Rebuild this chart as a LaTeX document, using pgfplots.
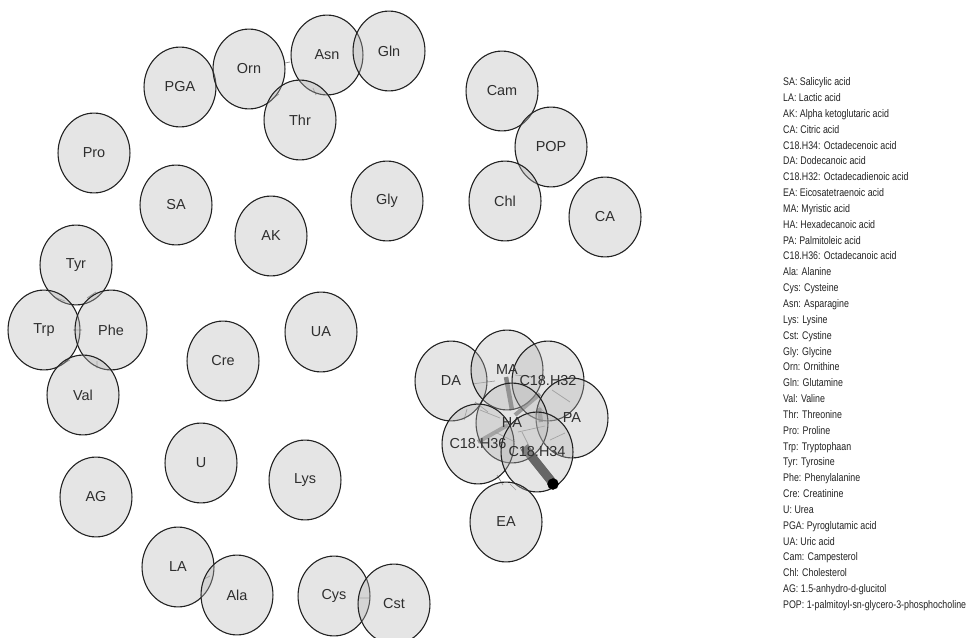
\documentclass[border=0pt]{standalone}
\usepackage{pgfplots}
\pgfplotsset{compat=1.18}
\usepackage{pgfplotstable}
\usepackage{graphicx}
\usepackage{fontspec}
\setmainfont{Liberation Sans}
\definecolor{nodefill}{gray}{0.71}
\definecolor{nodeedge}{HTML}{222222}
\definecolor{thinedge}{HTML}{8C8C8C}
\definecolor{midedge}{HTML}{787878}
\definecolor{darkedge}{HTML}{585858}
\definecolor{heavyedge}{HTML}{3C3C3C}
\definecolor{legtext}{HTML}{222222}
\pgfdeclareplotmark{ell}{%
  \pgfpathellipse{\pgfpointorigin}{\pgfqpoint{\pgfplotmarksize}{0pt}}{\pgfqpoint{0pt}{1.11\pgfplotmarksize}}%
  \pgfusepathqfillstroke}
\pgfplotstableread{
x y label
180 87 PGA
249 69 Orn
327 55 Asn
389 51 Gln
300 120 Thr
502 91 Cam
551 147 POP
94 153 Pro
176 205 SA
271 236 AK
387 201 Gly
505 201 Chl
605 217 CA
76 265 Tyr
44 330 Trp
111 330 Phe
83 395 Val
223 361 Cre
321 332 UA
451 381 DA
507 370 MA
548 381 C18.H32
572 418 PA
512 423 HA
478 444 C18.H36
537 452 C18.H34
506 522 EA
201 463 U
305 480 Lys
96 497 AG
178 567 LA
237 595 Ala
334 596 Cys
394 604 Cst
}\nodetab
\begin{document}
\begin{tikzpicture}
\useasboundingbox (0,0) rectangle (979bp,638bp);
\clip (0,0) rectangle (979bp,638bp);
\begin{axis}[
  at={(0,0)}, anchor=south west,
  scale only axis, width=979bp, height=638bp,
  xmin=0, xmax=979, ymin=0, ymax=638, y dir=reverse,
  hide axis, clip=false, unbounded coords=jump,
]
% nodes
\addplot[only marks, mark=ell, mark size=36.1pt,
  mark options={fill=nodefill, fill opacity=0.35, draw=nodeedge, draw opacity=1, line width=1.1bp}]
  table[x=x,y=y]{\nodetab};
% thin edges
\addplot[thinedge, line width=0.7bp] coordinates {
(285,63) (290,62) (nan,nan)
(272,99) (279,94) (nan,nan)
(313,88) (316,95) (nan,nan)
(54,297) (65,301) (nan,nan)
(87,298) (96,292) (nan,nan)
(73,330) (82,330) (nan,nan)
(62,364) (70,360) (nan,nan)
(97,361) (97,368) (nan,nan)
(204,579) (210,576) (nan,nan)
(358,598) (370,598) (nan,nan)
(472,384) (495,381) (nan,nan)
(515,375) (535,377) (nan,nan)
(475,402) (488,412) (nan,nan)
(464,420) (467,409) (nan,nan)
(480,410) (500,418) (nan,nan)
(552,390) (570,402) (nan,nan)
(518,432) (545,426) (nan,nan)
(550,440) (565,433) (nan,nan)
(497,475) (503,485) (nan,nan)
(510,484) (516,490) (nan,nan)
(522,432) (530,448) (nan,nan)
(537,405) (547,415) (nan,nan)
(495,432) (515,442)
};
% medium edges
\addplot[midedge, line width=4bp, opacity=0.85] coordinates {
(540,394) (515,415) (nan,nan)
(478,442) (508,425)
};
\addplot[darkedge, line width=4.5bp, opacity=0.9] coordinates {
(506,377) (512,410) (nan,nan)
(539,408) (541,422)
};
% heaviest edge
\addplot[heavyedge, line width=9bp] coordinates {(524,447) (552,482)};
\addplot[only marks, mark=*, mark size=5.5bp, mark options={fill=black, draw=black}] coordinates {(553,484)};
% labels
\addplot[draw=none, mark=none, nodes near coords, point meta=explicit symbolic,
  nodes near coords align={center},
  every node near coord/.append style={anchor=center, text=black!82, text opacity=1,
    font=\fontsize{14.5}{16}\selectfont, inner sep=0pt}]
  table[x=x,y=y,meta=label]{\nodetab};
\node[anchor=north west, inner sep=0pt, text=legtext] at (axis cs:783,77.5) {%
\scalebox{0.8}[1]{\parbox[t]{280bp}{\raggedright\fontsize{11.1}{15.9}\selectfont
SA: Salicylic acid\\
LA: Lactic acid\\
AK: Alpha ketoglutaric acid\\
CA: Citric acid\\
C18.H34: Octadecenoic acid\\
DA: Dodecanoic acid\\
C18.H32: Octadecadienoic acid\\
EA: Eicosatetraenoic acid\\
MA: Myristic acid\\
HA: Hexadecanoic acid\\
PA: Palmitoleic acid\\
C18.H36: Octadecanoic acid\\
Ala: Alanine\\
Cys: Cysteine\\
Asn: Asparagine\\
Lys: Lysine\\
Cst: Cystine\\
Gly: Glycine\\
Orn: Ornithine\\
Gln: Glutamine\\
Val: Valine\\
Thr: Threonine\\
Pro: Proline\\
Trp: Tryptophaan\\
Tyr: Tyrosine\\
Phe: Phenylalanine\\
Cre: Creatinine\\
U: Urea\\
PGA: Pyroglutamic acid\\
UA: Uric acid\\
Cam: Campesterol\\
Chl: Cholesterol\\
AG: 1.5-anhydro-d-glucitol\\
POP: 1-palmitoyl-sn-glycero-3-phosphocholine}}};
\end{axis}
\end{tikzpicture}
\end{document}
